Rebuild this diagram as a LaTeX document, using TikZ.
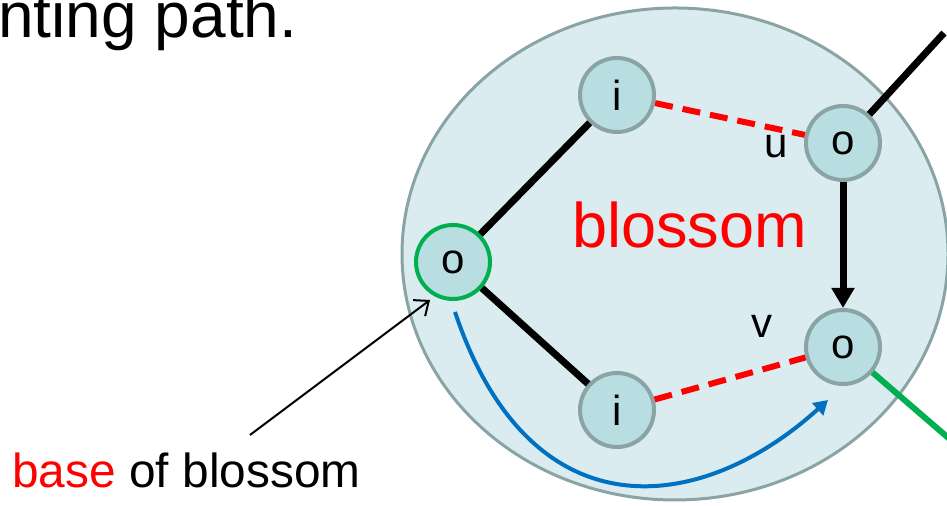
\documentclass[tikz,border=0pt]{standalone}
\usepackage{fontspec}
\setmainfont{Liberation Sans}
\usetikzlibrary{arrows.meta}
\definecolor{blossomfill}{HTML}{DAECEF}
\definecolor{vertexfill}{HTML}{B8DEE1}
\definecolor{vertexline}{HTML}{8AA4A6}
\definecolor{basegreen}{HTML}{00B050}
\definecolor{pathblue}{HTML}{0070C0}

\begin{document}
\begin{tikzpicture}[x=0.5pt,y=0.5pt,
		vertex/.style={circle, draw=vertexline, fill=vertexfill, line width=2pt, minimum size=37pt, inner sep=0pt, font=\fontsize{21}{21}\selectfont},
		matched/.style={line width=3.5pt},
		unmatched/.style={red, line width=3pt, dash pattern=on 9pt off 5pt}]
			\clip (0,0) rectangle (947,506);
			\draw[fill=blossomfill, draw=vertexline, line width=1.5pt] (675,252) ellipse [x radius=273, y radius=246];
			\node[anchor=base west, inner sep=0pt, font=\fontsize{32}{32}\selectfont] (title) at (-2,468) {nting path.};
			\node[anchor=base west, inner sep=0pt, font=\fontsize{31.5}{31.5}\selectfont, red] (name) at (572,258) {blossom};
			\node[anchor=base west, inner sep=0pt, font=\fontsize{23.9}{23.9}\selectfont] (basetext) at (12,18) {\textcolor{red}{base} of blossom};
			\node[vertex, draw=basegreen] (base) at (453,244) {o};
			\node[vertex] (topi) at (617,411) {i};
			\node[vertex] (boti) at (617,96) {i};
			\node[vertex] (u) at (843,363) {o};
			\node[vertex] (v) at (843,159) {o};
			\node[font=\fontsize{21}{21}\selectfont] (ulabel) at (776,359) {u};
			\node[font=\fontsize{21}{21}\selectfont] (vlabel) at (762,180) {v};
			\coordinate (uout) at (944,473);
			\coordinate (vout) at (960,58);
			\coordinate (annot) at (250,71);
			\coordinate (tip) at (430,206);
			\coordinate (pstart) at (455,194);
			\coordinate (pend) at (828,106);
			\draw[matched] (base) -- (topi);
			\draw[matched] (base) -- (boti);
			\draw[matched] (u) -- (uout);
			\draw[basegreen, line width=3pt] (v) -- (vout);
			\draw[unmatched] (topi) -- (u);
			\draw[unmatched] (boti) -- (v);
			\draw[matched, -{Triangle[length=10pt, width=11pt]}] (u) -- (v);
			\draw[line width=1pt, -{Straight Barb[length=6pt, width=10pt]}] (annot) -- (tip);
			\draw[pathblue, line width=2pt, -{Triangle[length=7pt, width=8pt]}] (pstart) .. controls (530,-30) and (700,-10) .. (pend);
		\end{tikzpicture}
\end{document}
